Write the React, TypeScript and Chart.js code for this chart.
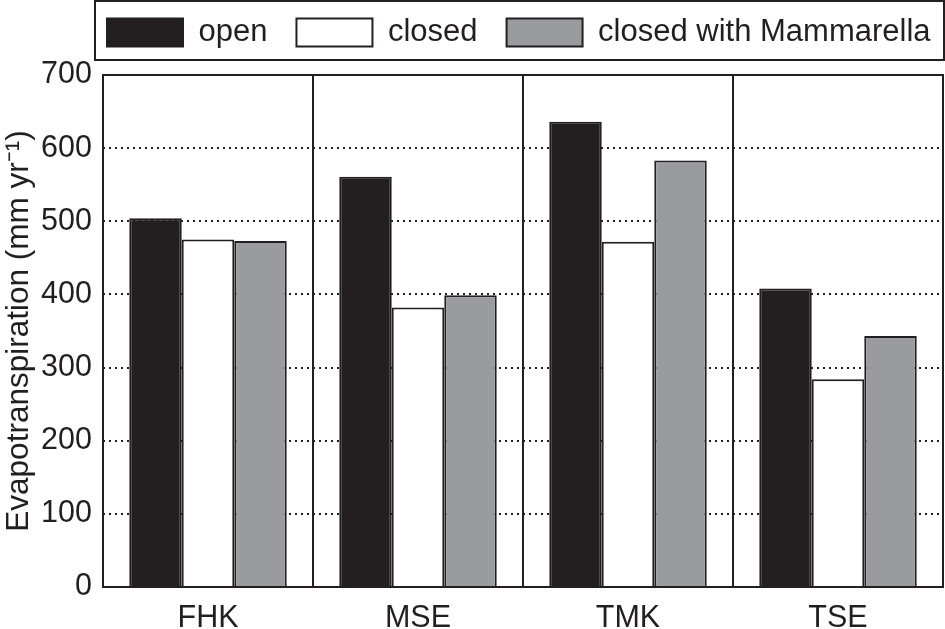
import React, { useEffect, useRef } from 'react';
import { Chart, registerables } from 'chart.js';

Chart.register(...registerables);

const categories = ['FHK', 'MSE', 'TMK', 'TSE'];
const openValues = [504, 561, 636, 408];
const closedValues = [475, 382, 472, 284];
const mammarellaValues = [473, 399, 583, 343];
const seriesLabels = ['open', 'closed', 'closed with Mammarella'];
const yMin = 0;
const yMax = 700;
const yStep = 100;

const DARK = '#231f20';
const GRAY = '#9a9b9e';
const FONT = "'Liberation Sans', Arial, Helvetica, sans-serif";
const LEGEND_PAD = 29;

const framePlugin = {
  id: 'frameAndLegendBox',
  afterLayout(chart: any) {
    const lg = chart.legend;
    const ca = chart.chartArea;
    if (lg && lg.lineWidths && lg.lineWidths.length) {
      const desiredStart = ca.left + 4;
      const curStart = (lg.left + LEGEND_PAD + lg.right - lg.lineWidths[0]) / 2;
      const dx = desiredStart - curStart;
      lg.left += dx;
      lg.right += dx;
      lg.top -= 12;
      lg.bottom -= 12;
    }
  },
  afterDraw(chart: any) {
    const { ctx, chartArea } = chart;
    ctx.save();
    ctx.strokeStyle = DARK;
    ctx.lineWidth = 2;
    ctx.strokeRect(
      Math.round(chartArea.left),
      Math.round(chartArea.top),
      Math.round(chartArea.right - chartArea.left),
      Math.round(chartArea.bottom - chartArea.top)
    );
    const lg = chart.legend;
    if (lg) {
      const top = lg.top + 13;
      ctx.strokeRect(Math.round(chartArea.left) - 8, top, Math.round(chartArea.right - chartArea.left) + 9, 59);
    }
    ctx.restore();
  },
};

export default function App() {
  const ref = useRef<HTMLCanvasElement | null>(null);

  useEffect(() => {
    if (!ref.current) return;
    const chart = new Chart(ref.current, {
      type: 'bar',
      data: {
        labels: categories,
        datasets: [
          {
            label: seriesLabels[0],
            data: openValues,
            backgroundColor: DARK,
            borderColor: DARK,
            borderWidth: 2,
          },
          {
            label: seriesLabels[1],
            data: closedValues,
            backgroundColor: '#ffffff',
            borderColor: DARK,
            borderWidth: 2,
          },
          {
            label: seriesLabels[2],
            data: mammarellaValues,
            backgroundColor: GRAY,
            borderColor: DARK,
            borderWidth: 2,
          },
        ],
      },
      options: {
        responsive: false,
        animation: false,
        devicePixelRatio: 1,
        layout: { padding: { right: 2 } },
        datasets: {
          bar: { categoryPercentage: 0.75, barPercentage: 1 },
        },
        plugins: {
          legend: {
            position: 'top',
            fullSize: true,
            align: 'center',
            labels: {
              boxWidth: 76,
              boxHeight: 28,
              padding: LEGEND_PAD,
              color: DARK,
              font: { family: FONT, size: 31 },
            },
          },
          title: {
            display: true,
            text: '',
            position: 'top',
            weight: 500,
            fullSize: false,
            padding: 0,
            font: { size: 5, lineHeight: 1 },
          },
          tooltip: { enabled: false },
        },
        scales: {
          x: {
            afterFit: (s: any) => {
              s.height = 42;
            },
            grid: {
              display: true,
              offset: true,
              color: DARK,
              lineWidth: 2,
              drawTicks: false,
            },
            border: { display: false },
            ticks: {
              color: DARK,
              padding: 13,
              font: { family: FONT, size: 30.5 },
            },
          },
          y: {
            min: yMin,
            max: yMax,
            afterFit: (s: any) => {
              s.width = 103;
            },
            grid: {
              color: (ctx: any) =>
                ctx.tick && (ctx.tick.value === yMin || ctx.tick.value === yMax) ? 'rgba(0,0,0,0)' : DARK,
              lineWidth: 2,
              drawTicks: false,
            },
            border: { display: false, dash: [2, 4] },
            ticks: {
              stepSize: yStep,
              color: DARK,
              padding: 11,
              font: { family: FONT, size: 30.5 },
            },
            title: {
              display: true,
              text: 'Evapotranspiration (mm yr\u207B\u00B9)',
              color: DARK,
              padding: { top: 0, bottom: 4 },
              font: { family: FONT, size: 31.5 },
            },
          },
        },
      },
      plugins: [framePlugin],
    } as any);
    return () => chart.destroy();
  }, []);

  return (
    <div style={{ position: 'fixed', left: 0, top: 0, width: 945, height: 629, background: '#fff' }}>
      <canvas ref={ref} width={945} height={629} style={{ width: 945, height: 629, display: 'block' }} />
    </div>
  );
}
